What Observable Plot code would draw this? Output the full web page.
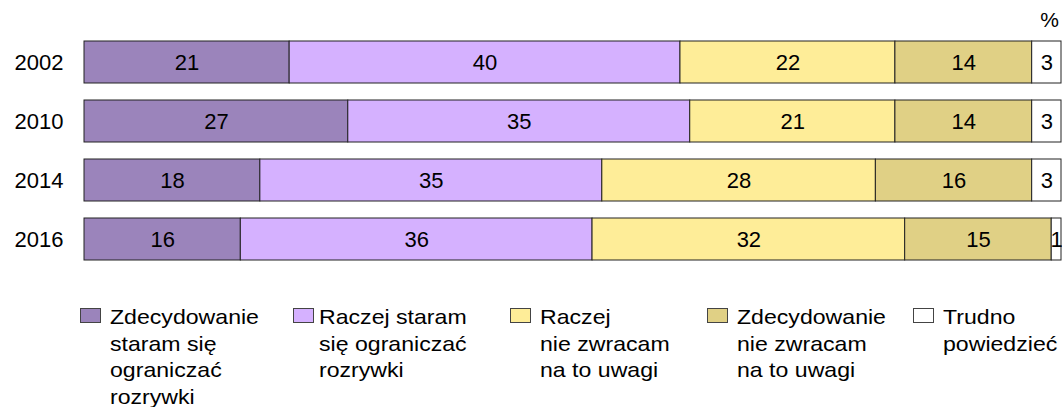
<!DOCTYPE html>
<html>
<head>
<meta charset="utf-8">
<script src="https://cdn.jsdelivr.net/npm/d3@7"></script>
<script src="https://cdn.jsdelivr.net/npm/@observablehq/plot@0.6"></script>
<style>
  html, body { margin: 0; padding: 0; background: #fff; }
  body { font-family: "Liberation Sans", Arial, sans-serif; color: #000; }
  #wrap { position: relative; width: 1062px; height: 407px; overflow: hidden; }
  #chart { position: absolute; left: 0; top: 0; }
  .leg { position: absolute; top: 304px; font-size: 21px; line-height: 26.5px; }
  .sw { position: absolute; top: 4px; width: 19px; height: 13px; border: 1px solid #444; }
  .lt { position: absolute; top: 0; white-space: nowrap; transform: scaleX(1.1); transform-origin: 0 0; }
</style>
</head>
<body>
<div id="wrap">
  <div id="chart"></div>
  <div id="legend"></div>
</div>
<script>
const years = ["2002", "2010", "2014", "2016"];
const categories = [
  "Zdecydowanie staram się ograniczać rozrywki",
  "Raczej staram się ograniczać rozrywki",
  "Raczej nie zwracam na to uwagi",
  "Zdecydowanie nie zwracam na to uwagi",
  "Trudno powiedzieć"
];
const legendLines = [
  ["Zdecydowanie", "staram się", "ograniczać", "rozrywki"],
  ["Raczej staram", "się ograniczać", "rozrywki"],
  ["Raczej", "nie zwracam", "na to uwagi"],
  ["Zdecydowanie", "nie zwracam", "na to uwagi"],
  ["Trudno", "powiedzieć"]
];
const colors = ["#9b84bb", "#d5b1ff", "#feed98", "#e0d085", "#ffffff"];

const zdecydowanieStaram = [21, 27, 18, 16];
const raczejStaram       = [40, 35, 35, 36];
const raczejNie          = [22, 21, 28, 32];
const zdecydowanieNie    = [14, 14, 16, 15];
const trudno             = [3, 3, 3, 1];

const series = [zdecydowanieStaram, raczejStaram, raczejNie, zdecydowanieNie, trudno];
const data = [];
categories.forEach((c, ci) => {
  years.forEach((y, yi) => data.push({year: y, category: c, value: series[ci][yi]}));
});

const chart = Plot.plot({
  width: 1062,
  height: 270,
  marginLeft: 84,
  marginRight: 1,
  marginTop: 0,
  marginBottom: 0,
  style: {fontFamily: '"Liberation Sans", Arial, sans-serif', color: "#000", background: "transparent"},
  x: {domain: [0, 100], range: [84, 1061], axis: null},
  y: {domain: years, range: [32.5, 268.5], paddingInner: 0.288, paddingOuter: 0.144, align: 0.5, axis: null},
  color: {domain: categories, range: colors},
  marks: [
    Plot.barX(data, Plot.stackX({x: "value", y: "year", fill: "category", z: "category", stroke: "#222", strokeWidth: 1})),
    Plot.text(data, Plot.stackX({x: "value", y: "year", z: "category", text: d => String(d.value), fontSize: 22, fill: "#000"})),
    Plot.axisY({tickSize: 0, tickPadding: 21, fontSize: 22, label: null}),
    Plot.text(["%"], {frameAnchor: "top-right", dx: -12, dy: 20, fontSize: 21, fill: "#000", textAnchor: "middle", lineAnchor: "middle"})
  ]
});
document.getElementById("chart").appendChild(chart);

const legendX = [80, 293, 510, 707, 913];
const legend = document.getElementById("legend");
categories.forEach((c, i) => {
  const d = document.createElement("div");
  d.className = "leg";
  d.style.left = legendX[i] + "px";
  const sw = document.createElement("div");
  sw.className = "sw";
  sw.style.left = "0px";
  sw.style.background = colors[i];
  d.appendChild(sw);
  const t = document.createElement("div");
  t.className = "lt";
  t.style.left = (i === 1 ? 26 : 30) + "px";
  t.innerHTML = legendLines[i].join("<br>");
  d.appendChild(t);
  legend.appendChild(d);
});
</script>
</body>
</html>
